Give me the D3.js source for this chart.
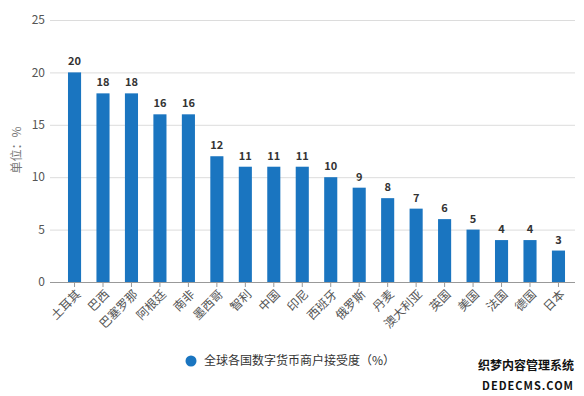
<!DOCTYPE html>
<html><head><meta charset="utf-8">
<script src="https://cdn.jsdelivr.net/npm/d3@7"></script>
<style>
body{margin:0;background:#fff;}
text{font-family:"Microsoft YaHei","Noto Sans CJK SC",sans-serif;}
</style></head>
<body>
<svg id="chart" width="584" height="396"></svg>
<script>
const categories = ["土耳其","巴西","巴塞罗那","阿根廷","南非","墨西哥","智利","中国","印尼","西班牙","俄罗斯","丹麦","澳大利亚","英国","美国","法国","德国","日本"];
const values = [20,18,18,16,16,12,11,11,11,10,9,8,7,6,5,4,4,3];
const yTicks = [0,5,10,15,20,25];
const seriesName = "全球各国数字货币商户接受度（%）";
const yLabel = "单位：%";

(function(){
const svg = d3.select("#chart");
const mLeft = 50, mRight = 575, mTop = 20, mBottom = 282;
const y = d3.scaleLinear().domain([0,25]).range([mBottom, mTop]);
const x = d3.scaleBand().domain(categories).range([60.3, 572.7]).paddingInner(0.54).paddingOuter(0.27);
const color = "#1a75c0";

svg.append("g").selectAll("line").data(yTicks.filter(d=>d>0)).join("line")
  .attr("x1", mLeft).attr("x2", mRight)
  .attr("y1", d=>y(d)+0.5).attr("y2", d=>y(d)+0.5)
  .attr("stroke", "#dcdcdc").attr("stroke-width", 1);

svg.append("g").selectAll("text").data(yTicks).join("text")
  .attr("x", 45).attr("y", d=>y(d)).attr("dy", "0.35em")
  .attr("text-anchor", "end").attr("font-size", 12).attr("fill", "#555")
  .text(d=>d);

svg.append("text").attr("transform", "translate(21,150) rotate(-90)")
  .attr("text-anchor", "middle").attr("font-size", 12).attr("fill", "#777").text(yLabel);

svg.append("g").selectAll("rect").data(values).join("rect")
  .attr("x", (d,i)=>x(categories[i])).attr("width", x.bandwidth())
  .attr("y", d=>y(d)).attr("height", d=>mBottom - y(d))
  .attr("fill", color);

svg.append("g").selectAll("text").data(values).join("text")
  .attr("x", (d,i)=>x(categories[i]) + x.bandwidth()/2)
  .attr("y", d=>y(d) - 7)
  .attr("text-anchor", "middle").attr("font-size", 11).attr("font-weight", "bold")
  .attr("fill", "#333").text(d=>d);

svg.append("line").attr("x1", mLeft).attr("x2", mRight).attr("y1", mBottom+0.5).attr("y2", mBottom+0.5)
  .attr("stroke", "#999").attr("stroke-width", 1);
svg.append("g").selectAll("line").data(categories).join("line")
  .attr("x1", d=>x(d)+x.bandwidth()/2).attr("x2", d=>x(d)+x.bandwidth()/2)
  .attr("y1", mBottom).attr("y2", mBottom+5)
  .attr("stroke", "#999");

svg.append("g").selectAll("text").data(categories).join("text")
  .attr("transform", d=>`translate(${x(d)+x.bandwidth()/2+4},${mBottom+10}) rotate(-45)`)
  .attr("text-anchor", "end").attr("dy", "0.35em")
  .attr("font-size", 12).attr("fill", "#555").text(d=>d);

svg.append("circle").attr("cx", 191).attr("cy", 361).attr("r", 5.5).attr("fill", color);
svg.append("text").attr("x", 204).attr("y", 361).attr("dy", "0.35em")
  .attr("font-size", 12).attr("fill", "#333").text(seriesName);

svg.append("text").attr("x", 574).attr("y", 370).attr("text-anchor", "end")
  .attr("font-size", 12).attr("font-weight", "bold").attr("fill", "#111")
  .text("织梦内容管理系统");
svg.append("text").attr("x", 574).attr("y", 390).attr("text-anchor", "end")
  .attr("font-size", 11).attr("font-weight", "bold").attr("fill", "#111")
  .attr("letter-spacing", 1).text("DEDECMS.COM");
})();
</script>
</body></html>
